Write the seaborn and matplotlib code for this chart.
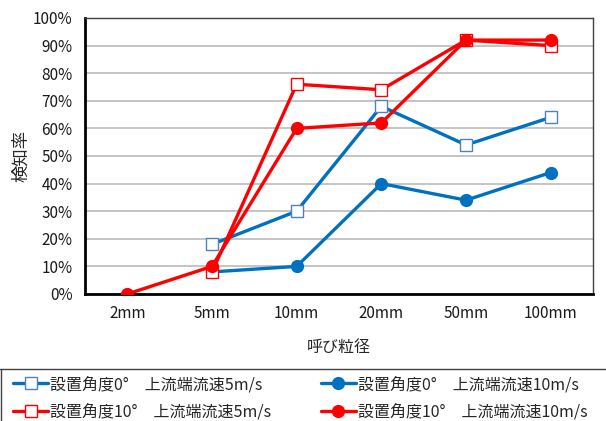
import numpy as np
import pandas as pd
import seaborn as sns
import matplotlib.pyplot as plt
from matplotlib.lines import Line2D

# data
sizes = ['2mm', '5mm', '10mm', '20mm', '50mm', '100mm']
a0_v5 = [np.nan, 18, 30, 68, 54, 64]
a0_v10 = [np.nan, 8, 10, 40, 34, 44]
a10_v5 = [np.nan, 8, 76, 74, 92, 90]
a10_v10 = [0, 10, 60, 62, 92, 92]

series_labels = ['設置角度0°\u3000上流端流速5m/s', '設置角度0°\u3000上流端流速10m/s',
                 '設置角度10°\u3000上流端流速5m/s', '設置角度10°\u3000上流端流速10m/s']

sns.set_theme(style='white')
plt.rcParams['font.family'] = ['Noto Sans CJK JP', 'DejaVu Sans']

W, H = 606, 421
fig = plt.figure(figsize=(W / 100, H / 100), dpi=100)
ax = fig.add_axes([85 / W, 1 - 294 / H, (593 - 85) / W, (294 - 18) / H])

blue = '#0070C0'
red = '#FF0000'
styles = [
    dict(color=blue, marker='s', mfc='white', mec='#4F81BD', ms=8, mew=1.0),
    dict(color=blue, marker='o', mfc=blue, mec=blue, ms=8.5, mew=1.0),
    dict(color=red, marker='s', mfc='white', mec=red, ms=8, mew=1.0),
    dict(color=red, marker='o', mfc=red, mec=red, ms=8.5, mew=1.0),
]

x = np.arange(len(sizes))
for vals, lab, st in zip([a0_v5, a0_v10, a10_v5, a10_v10], series_labels, styles):
    df = pd.DataFrame({'x': x, 'y': vals}).dropna()
    sns.lineplot(data=df, x='x', y='y', ax=ax, label=lab, linewidth=2.4,
                 color=st['color'], marker=st['marker'], markersize=st['ms'],
                 markerfacecolor=st['mfc'], markeredgecolor=st['mec'],
                 markeredgewidth=st['mew'], zorder=3)

ax.set_xlim(-0.5, len(sizes) - 0.5)
ax.set_ylim(0, 100)
ax.set_yticks(range(0, 101, 10))
ax.set_yticklabels([f'{v}%' for v in range(0, 101, 10)], fontsize=11)
ax.set_xticks(x)
ax.set_xticklabels(sizes, fontsize=11)
ax.tick_params(axis='y', length=0, pad=9, colors='#1a1a1a')
ax.tick_params(axis='x', length=0, pad=8, colors='#1a1a1a')
ax.grid(axis='y', color='#BFBFBF', linewidth=1.3)
ax.set_axisbelow(True)

ax.set_xlabel('呼び粒径', fontsize=11.5, labelpad=12)
ax.set_ylabel('検知率', fontsize=12.5, labelpad=2)

for side in ['left', 'bottom']:
    ax.spines[side].set_color('black')
    ax.spines[side].set_linewidth(2.0)
for side in ['top', 'right']:
    ax.spines[side].set_color('#404040')
    ax.spines[side].set_linewidth(1.0)

ax.get_legend().remove()
handles, labels = ax.get_legend_handles_labels()
# column-wise fill: put 5m/s pair in first column
order = [0, 2, 1, 3]
leg = fig.legend([handles[i] for i in order], [labels[i] for i in order],
                 loc='upper left', ncol=2, bbox_to_anchor=(13 / W, 1 - 376 / H),
                 frameon=False, fontsize=11.5, handlelength=2.2,
                 handletextpad=0.12, borderaxespad=0, borderpad=0,
                 labelspacing=0.68, columnspacing=3.1)

# legend box edge (top and left sides visible in the reference)
fig.add_artist(Line2D([0, 1], [1 - 369 / H] * 2, transform=fig.transFigure,
                      color='#404040', linewidth=1.0))
fig.add_artist(Line2D([0.5 / W] * 2, [0, 1 - 369 / H], transform=fig.transFigure,
                      color='#404040', linewidth=1.0))

fig.savefig('out.png', dpi=100)
